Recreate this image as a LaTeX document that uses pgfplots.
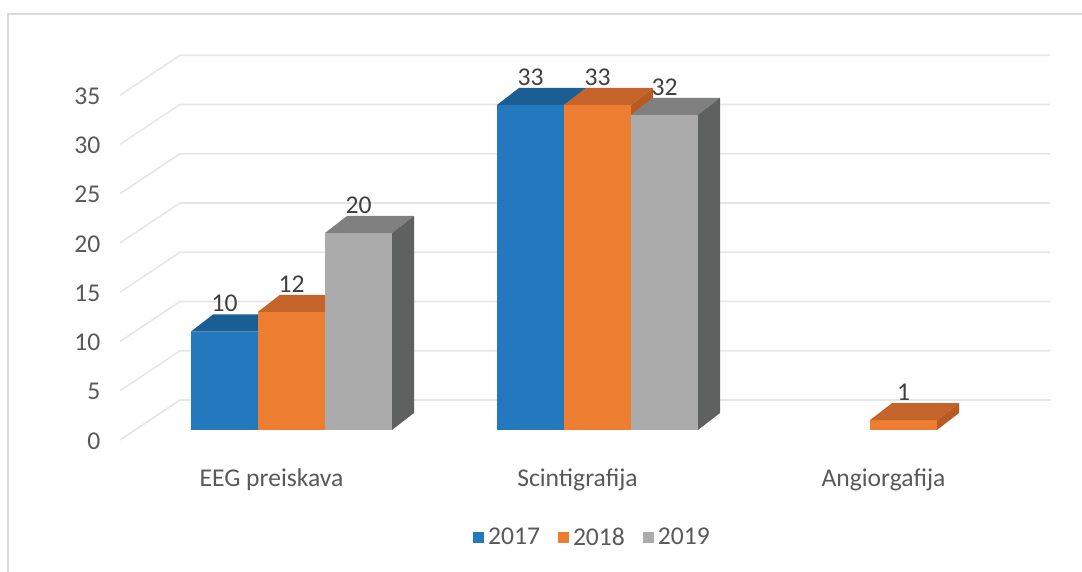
\documentclass[border=0pt]{standalone}
\usepackage{pgfplots}
\pgfplotsset{compat=1.18}
\usepackage{fontspec}
\setmainfont{Carlito}
\definecolor{cBlue}{HTML}{2378BE}
\definecolor{cBlueTop}{HTML}{1A5E93}
\definecolor{cBlueSide}{HTML}{1A5E93}
\definecolor{cOrange}{HTML}{ED7D31}
\definecolor{cOrangeTop}{HTML}{C4632A}
\definecolor{cOrangeSide}{HTML}{B95A22}
\definecolor{cGray}{HTML}{ABABAB}
\definecolor{cGrayTop}{HTML}{808080}
\definecolor{cGraySide}{HTML}{5F6161}
\definecolor{cGrid}{HTML}{E6E6E6}
\definecolor{cText}{HTML}{595959}
\definecolor{cLabel}{HTML}{404040}
\definecolor{cFrame}{HTML}{DADADA}

% #1 mark name, #2 top colour, #3 side colour, #4 x offset (bar shift)
\newcommand\defboxmark[4]{%
  \pgfdeclareplotmark{#1}{%
    \pgfmathsetlengthmacro\bxh{\barval*4.925pt}%
    \pgftransformxshift{#4}%
    \pgfpathmoveto{\pgfpoint{-16.75pt}{0pt}}%
    \pgfpathlineto{\pgfpoint{16.75pt}{0pt}}%
    \pgfpathlineto{\pgfpoint{27.75pt}{8.5pt}}%
    \pgfpathlineto{\pgfpoint{-5.75pt}{8.5pt}}%
    \pgfpathclose
    \pgfsetfillcolor{#2}\pgfusepathqfill
    \pgfpathmoveto{\pgfpoint{16.75pt}{0pt}}%
    \pgfpathlineto{\pgfpoint{27.75pt}{8.5pt}}%
    \pgfpathlineto{\pgfpoint{27.75pt}{8.5pt-\bxh}}%
    \pgfpathlineto{\pgfpoint{16.75pt}{-\bxh}}%
    \pgfpathclose
    \pgfsetfillcolor{#3}\pgfusepathqfill
  }%
}
\defboxmark{boxblue}{cBlueTop}{cBlueSide}{-33.5pt}
\defboxmark{boxorange}{cOrangeTop}{cOrangeSide}{0pt}
\defboxmark{boxgray}{cGrayTop}{cGraySide}{33.5pt}

\newcommand\chartfont{\fontsize{12.8}{15}\selectfont}

\begin{document}
\begin{tikzpicture}
\path[use as bounding box] (0,0) rectangle (541pt,286pt);
\draw[cFrame, line width=0.8pt] (4pt,0) -- (4pt,279pt) -- (541pt,279pt);
\begin{axis}[
  at={(69.25pt,71pt)}, anchor=south west,
  x=153pt, y=4.925pt,
  xmin=-0.5, xmax=2.5, ymin=0, ymax=35,
  clip=false, clip mode=individual,
  axis line style={draw=none},
  major tick length=0pt,
  ybar=0pt, bar width=33.5pt,
  xtick={0,1,2},
  xticklabels={EEG preiskava, Scintigrafija, Angiorgafija},
  ytick={0,5,...,35},
  /pgf/number format/assume math mode=true,
  xticklabel style={font=\chartfont, text=cText, xshift=-10pt, yshift=-16pt},
  yticklabel style={font=\chartfont, text=cText, xshift=-15.5pt, yshift=-5.5pt},
  nodes near coords,
  nodes near coords style={font=\chartfont, text=cLabel, anchor=south, inner sep=0pt, yshift=9.5pt},
  visualization depends on={rawy \as \barval},
  legend columns=3,
  legend style={draw=none, fill=none, at={(0.4956,0)}, anchor=center, yshift=-54pt,
    font=\chartfont, text=cText,
    /tikz/every even column/.append style={column sep=7pt}},
  legend image code/.code={\fill[#1] (0pt,-2.75pt) rectangle (5.5pt,2.75pt);},
]
\pgfplotsinvokeforeach{0,5,...,35}{
  \draw[cGrid, line width=0.8pt] ([shift={(-9.25pt,-5pt)}]axis cs:-0.5,#1) -- ([shift={(20.75pt,15pt)}]axis cs:-0.5,#1) -- ([shift={(-3.25pt,15pt)}]axis cs:2.5,#1);
}
\addplot[fill=cBlue, draw=none, mark=boxblue,
  every node near coord/.append style={xshift=33.5pt}] coordinates {(0,10) (1,33)};
\addplot[fill=cOrange, draw=none, mark=boxorange] coordinates {(0,12) (1,33) (2,1)};
\addplot[fill=cGray, draw=none, mark=boxgray,
  every node near coord/.append style={xshift=-33.5pt}] coordinates {(0,20) (1,32)};
\legend{2017,2018,2019}
\end{axis}
\end{tikzpicture}
\end{document}
